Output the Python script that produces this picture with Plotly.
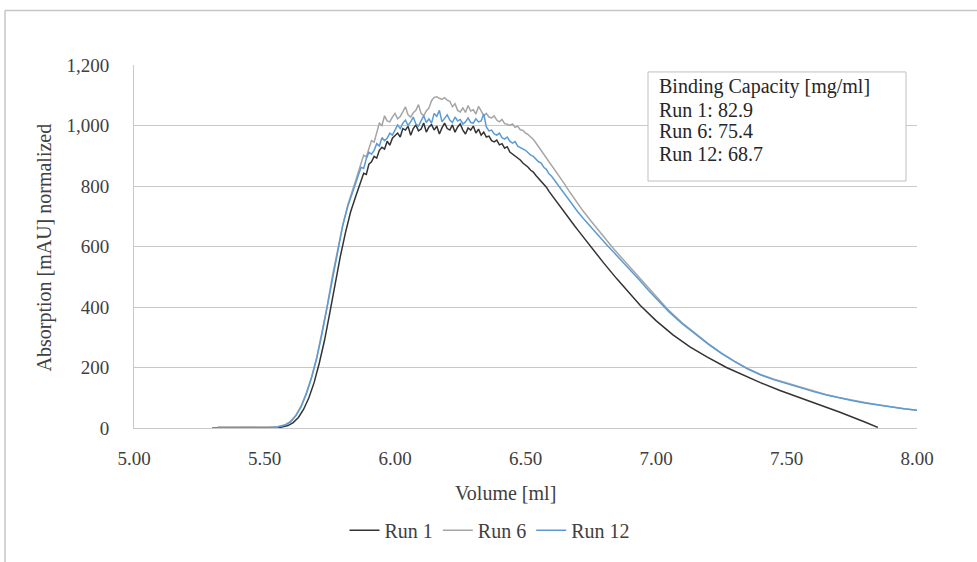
import plotly.graph_objects as go

# ---- data -----------------------------------------------------------------
run1_x = [5.30, 5.50, 5.56, 5.59, 5.61, 5.63, 5.65, 5.67, 5.69, 5.71, 5.73, 5.75, 5.77, 5.79, 5.81, 5.83, 5.85,
          5.86, 5.87, 5.88, 5.89, 5.90, 5.91, 5.92, 5.93, 5.94, 5.95, 5.96, 5.97, 5.98, 5.99,
          6.00, 6.01, 6.02, 6.03, 6.04, 6.05, 6.06, 6.07, 6.08, 6.09, 6.10, 6.11, 6.12, 6.13, 6.14,
          6.15, 6.16, 6.17, 6.18, 6.19, 6.20, 6.21, 6.22, 6.23, 6.24, 6.25, 6.26, 6.27, 6.28, 6.29,
          6.30, 6.31, 6.32, 6.33, 6.34, 6.35, 6.36, 6.37, 6.38, 6.39, 6.40, 6.41, 6.42, 6.43, 6.44,
          6.45, 6.46, 6.47, 6.48, 6.49, 6.50, 6.51, 6.52, 6.53, 6.54, 6.55, 6.56, 6.57, 6.58, 6.59,
          6.60, 6.61, 6.62, 6.63, 6.64, 6.65, 6.66, 6.67, 6.68, 6.69, 6.70,
          6.75, 6.80, 6.85, 6.90, 6.94, 7.00, 7.065, 7.13, 7.195, 7.27, 7.32,
          7.40, 7.475, 7.58, 7.705, 7.80, 7.85]
run1_y = [0, 0, 2, 8, 18, 35, 62, 100, 150, 215, 290, 380, 475, 565, 645, 715, 767,
          790, 818, 842, 838, 872, 880, 898, 892, 918, 928, 922, 948, 935, 958,
          965, 975, 962, 990, 985, 998, 968, 990, 1002, 982, 988, 1008, 978, 995, 1003,
          985, 998, 972, 992, 1008, 990, 985, 1002, 978, 995, 1005, 985, 972, 992, 985,
          998, 975, 988, 968, 978, 962, 965, 950, 946, 952, 936, 940, 925, 930, 912,
          906, 898, 892, 886, 876, 870, 862, 852, 846, 835, 825, 818, 805, 796, 782,
          770, 762, 748, 736, 725, 712, 702, 690, 678, 666, 655,
          598, 545, 493, 445, 405, 355, 308, 268, 235, 200, 180,
          150, 124, 92, 52, 20, 2]

run6_x = [5.32, 5.40, 5.50, 5.55, 5.58, 5.60, 5.62, 5.64, 5.66, 5.68, 5.70, 5.72, 5.74, 5.76, 5.78, 5.80, 5.82, 5.84,
          5.85, 5.86, 5.87, 5.88, 5.89, 5.90, 5.91, 5.92, 5.93, 5.94, 5.95, 5.96, 5.97, 5.98, 5.99,
          6.00, 6.01, 6.02, 6.03, 6.04, 6.05, 6.06, 6.07, 6.08, 6.09, 6.10, 6.11, 6.12, 6.13, 6.14,
          6.15, 6.16, 6.17, 6.18, 6.19, 6.20, 6.21, 6.22, 6.23, 6.24, 6.25, 6.26, 6.27, 6.28, 6.29,
          6.30, 6.31, 6.32, 6.33, 6.34, 6.35, 6.36, 6.37, 6.38, 6.39, 6.40, 6.41, 6.42, 6.43, 6.44,
          6.45, 6.46, 6.47, 6.48, 6.49, 6.50, 6.51, 6.52, 6.53, 6.54, 6.55, 6.56, 6.57, 6.58, 6.59,
          6.60, 6.61, 6.62, 6.63, 6.64, 6.65, 6.66, 6.67, 6.68, 6.69, 6.70,
          6.72, 6.75, 6.78, 6.81, 6.84, 6.87, 6.90, 6.94, 6.97, 7.00, 7.05, 7.10, 7.15, 7.20, 7.25,
          7.30, 7.35, 7.40, 7.45, 7.50, 7.55, 7.60, 7.65, 7.70, 7.75, 7.80, 7.85, 7.90, 7.95, 8.00]
run6_y = [3, 4, 3, 4, 11, 22, 42, 72, 115, 168, 232, 312, 402, 502, 592, 672, 740, 790,
          820, 848, 878, 902, 896, 925, 950, 945, 978, 1008, 1000, 1032, 1015, 1012, 1028,
          1040, 1022, 1030, 1045, 1062, 1035, 1028, 1042, 1050, 1069, 1040, 1032, 1048, 1058, 1082,
          1093, 1095, 1090, 1086, 1092, 1084, 1080, 1062, 1072, 1050, 1045, 1058, 1043, 1066, 1048,
          1052, 1038, 1063, 1048, 1032, 1040, 1028, 1025, 1032, 1018, 1012, 1020, 1006, 1004, 1000,
          1005, 994, 998, 986, 984, 975, 970, 962, 954, 942, 930, 918, 906, 892, 880,
          866, 856, 843, 832, 818, 806, 792, 779, 766, 754, 742,
          718, 685, 652, 620, 590, 561, 532, 492, 462, 433, 388, 348, 312, 279, 248,
          221, 197, 177, 162, 149, 135, 122, 111, 101, 92, 84, 77, 70, 64, 59]

run12_x = [5.30, 5.50, 5.55, 5.58, 5.60, 5.62, 5.64, 5.66, 5.68, 5.70, 5.72, 5.74, 5.76, 5.78, 5.80, 5.82, 5.84,
           5.85, 5.86, 5.87, 5.88, 5.89, 5.90, 5.91, 5.92, 5.93, 5.94, 5.95, 5.96, 5.97, 5.98, 5.99,
           6.00, 6.01, 6.02, 6.03, 6.04, 6.05, 6.06, 6.07, 6.08, 6.09, 6.10, 6.11, 6.12, 6.13, 6.14,
           6.15, 6.16, 6.17, 6.18, 6.19, 6.20, 6.21, 6.22, 6.23, 6.24, 6.25, 6.26, 6.27, 6.28, 6.29,
           6.30, 6.31, 6.32, 6.33, 6.34, 6.35, 6.36, 6.37, 6.38, 6.39, 6.40, 6.41, 6.42, 6.43, 6.44,
           6.45, 6.46, 6.47, 6.48, 6.49, 6.50, 6.51, 6.52, 6.53, 6.54, 6.55, 6.56, 6.57, 6.58, 6.59,
           6.60, 6.61, 6.62, 6.63, 6.64, 6.65, 6.66, 6.67, 6.68, 6.69, 6.70,
           6.72, 6.75, 6.78, 6.81, 6.84, 6.87, 6.90, 6.94, 6.97, 7.00, 7.05, 7.10, 7.15, 7.20, 7.25,
           7.30, 7.35, 7.40, 7.45, 7.50, 7.55, 7.60, 7.65, 7.70, 7.75, 7.80, 7.85, 7.90, 7.95, 8.00]
run12_y = [0, 0, 3, 10, 20, 40, 70, 112, 165, 230, 310, 400, 500, 590, 670, 735, 785,
           810, 835, 862, 858, 890, 912, 905, 918, 940, 932, 960, 950, 958, 975, 968,
           985, 1002, 990, 1008, 1018, 1000, 1012, 1028, 1005, 998, 1015, 1032, 1010, 1022, 1008,
           1040, 1030, 1050, 1012, 1025, 1035, 1018, 1010, 1028, 1015, 1020, 1005, 1012, 1025, 1010,
           1008, 1022, 1012, 1015, 1038, 995, 982, 985, 972, 968, 975, 960, 955, 962, 948,
           942, 947, 932, 928, 922, 918, 910, 902, 898, 890, 880, 876, 862, 855, 840,
           832, 820, 808, 797, 785, 774, 762, 751, 738, 727, 715,
           694, 664, 635, 607, 579, 552, 525, 486, 456, 428, 384, 345, 310, 277, 247,
           220, 196, 176, 160, 147, 133, 121, 110, 100, 91, 83, 76, 70, 64, 59]

series_names = ["Run 1", "Run 6", "Run 12"]
series_colors = ["#333333", "#a5a5a5", "#5b9bd5"]
capacity_title = "Binding Capacity [mg/ml]"
capacity_values = [82.9, 75.4, 68.7]

x_ticks = [5.0, 5.5, 6.0, 6.5, 7.0, 7.5, 8.0]
y_ticks = [0, 200, 400, 600, 800, 1000, 1200]

# ---- figure ---------------------------------------------------------------
W, H = 977, 562
ML, MR, MT, MB = 134, 60, 65, 131
PW, PH = W - ML - MR, H - MT - MB


def px_x(p):
    return (p - ML) / PW


def px_y(p):
    return (H - MB - p) / PH


FONT = "Liberation Serif, Times New Roman, serif"
TXT = "#404040"
GRID = "#c9c9c9"

fig = go.Figure()
for name, color, xs, ys in zip(series_names, series_colors,
                               [run1_x, run6_x, run12_x], [run1_y, run6_y, run12_y]):
    fig.add_trace(go.Scatter(x=xs, y=ys, mode="lines", name=name,
                             line=dict(color=color, width=1.5)))

box_lines = [capacity_title] + [f"{n}: {v}" for n, v in zip(series_names, capacity_values)]
box_line_y = [87, 110, 132, 155]

annotations = [
    dict(text=t, xref="paper", yref="paper", x=px_x(657), y=px_y(yy),
         xanchor="left", yanchor="middle", align="left", showarrow=False,
         font=dict(size=20, color="#262626"))
    for t, yy in zip(box_lines, box_line_y)
]
annotations += [
    dict(text="Volume [ml]", xref="paper", yref="paper", x=px_x(505), y=px_y(497),
         xanchor="center", yanchor="middle", showarrow=False, font=dict(size=20)),
    dict(text="Absorption [mAU] normalized", xref="paper", yref="paper",
         x=px_x(44), y=px_y(249), xanchor="center", yanchor="middle",
         textangle=-90, showarrow=False, font=dict(size=20)),
]

fig.update_layout(
    width=W, height=H,
    margin=dict(l=ML, r=MR, t=MT, b=MB),
    paper_bgcolor="white", plot_bgcolor="white",
    font=dict(family=FONT, size=19, color=TXT),
    showlegend=True,
    legend=dict(orientation="h", x=px_x(490), xanchor="center", y=px_y(534), yanchor="middle",
                font=dict(size=20, color=TXT), itemwidth=30, tracegroupgap=0),
    xaxis=dict(range=[5, 8], tickvals=x_ticks, tickformat=".2f", showgrid=False,
               showline=True, linecolor=GRID, linewidth=1, ticks="", zeroline=False,
               ticklabelstandoff=13),
    yaxis=dict(range=[0, 1200], tickvals=y_ticks, tickformat=",", showgrid=True,
               gridcolor=GRID, gridwidth=1, showline=True, linecolor=GRID, linewidth=1,
               ticks="", zeroline=False, ticklabelstandoff=20),
    shapes=[
        # chart border (top and left edges)
        dict(type="line", xref="paper", yref="paper", x0=px_x(5), x1=px_x(990),
             y0=px_y(10), y1=px_y(10), line=dict(color="#c6c6c6", width=1.5)),
        dict(type="line", xref="paper", yref="paper", x0=px_x(5), x1=px_x(5),
             y0=px_y(10), y1=px_y(575), line=dict(color="#c6c6c6", width=1.5)),
        # capacity box
        dict(type="rect", xref="paper", yref="paper", x0=px_x(648), x1=px_x(906),
             y0=px_y(72), y1=px_y(182), line=dict(color="#bfbfbf", width=1),
             fillcolor="white", layer="above"),
    ],
    annotations=annotations,
)

fig.write_html("out.html")
